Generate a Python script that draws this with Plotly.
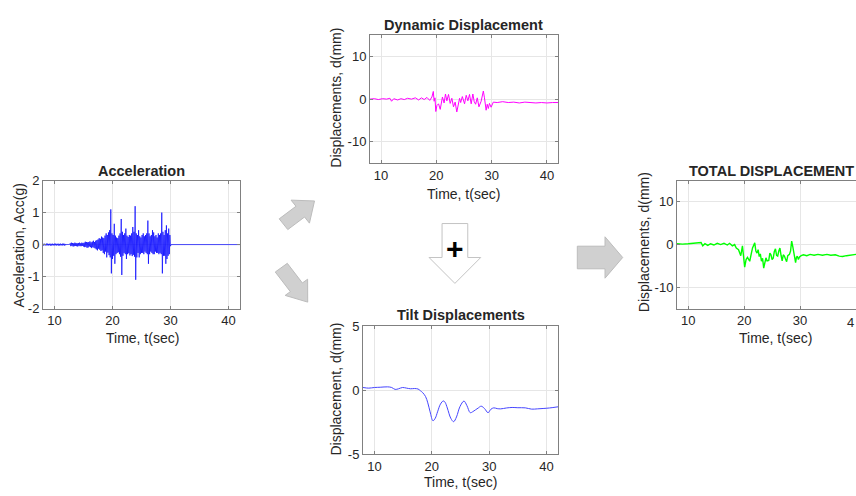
import math
import plotly.graph_objects as go

W, H = 856, 496
FONT = "Arial, Liberation Sans, Helvetica, sans-serif"
TXT = "#262626"

# ---------------- data ----------------
# Acceleration (g), sampled every 0.1 s from 8.0 s to 30.0 s, then quiet
acc_t_start, acc_dt = 8.0, 0.1
acc_v = [
    0.02, -0.03, 0.03, -0.02, 0.02, -0.03, 0.03, -0.02, 0.03, -0.03,
    0.02, -0.02, 0.03, -0.03, 0.02, -0.03, 0.03, -0.02, 0.02, -0.03,
    0.03, -0.02, 0.03, -0.03, 0.02, -0.02, 0.03, -0.03, 0.02, -0.03,
    0.03, -0.02, 0.02, -0.03, 0.03, -0.02, 0.03, -0.03, 0.02, -0.02,
    0.01, -0.01, 0.01, -0.01, 0.01, -0.01, 0.01,
    0.04, -0.05, 0.06, -0.04, 0.05, -0.06, 0.04, -0.05, 0.06, -0.04,
    0.05, -0.05, 0.04, -0.06, 0.05, -0.04, 0.06, -0.05, 0.04, -0.05,
    0.06, -0.04, 0.05, -0.06,
    0.06, -0.08, 0.09, -0.07, 0.08, -0.10, 0.07, -0.09, 0.08, -0.06,
    0.10, -0.08, 0.07, -0.11, 0.09, -0.08, 0.12, -0.10, 0.08, -0.12,
    0.12, -0.15, 0.14, -0.18, 0.16, -0.13, 0.20, -0.16, 0.18, -0.20,
    0.25, -0.18, 0.22, -0.26, 0.20,
    -0.30, 0.28, -0.22, 0.35, -0.40, 0.30, -0.25, 0.38, -0.33, 0.45,
    -0.40, 1.10, -0.90, 0.35, -0.45,
    0.30, -0.35, 0.65, -0.60, 0.28, -0.30, 0.22, -0.26, 0.20, -0.24,
    0.28, -0.30, 0.35, -0.38, 0.80, -0.95, 0.40, -0.35, 0.30, -0.26,
    0.35, -0.30, 0.50, -0.45, 0.28, -0.30, 0.24, -0.27, 0.30, -0.34,
    0.28, -0.30, 0.35, -0.36, 0.55, -0.32, 0.40, -0.38, 1.20, -1.10,
    0.35, -0.40, 0.30, -0.26, 0.45, -0.40, 0.26, -0.30, 0.22, -0.26,
    0.30, -0.26, 0.35, -0.30, 0.26, -0.22, 0.30, -0.26, 0.35, -0.30,
    0.75, -0.60, 0.35, -0.30, 0.26, -0.22, 0.30, -0.26, 0.45, -0.30,
    0.38, -0.30, 0.26, -0.22, 0.30, -0.26, 0.22, -0.26, 0.35, -0.30,
    0.30, -0.26, 0.35, -0.30, 1.00, -0.90, 0.40, -0.35, 0.30, -0.35,
    0.45, -0.60, 0.60, -0.45, 0.35, -0.35, 0.50, -0.30, 0.30, -0.05,
]
acc_tail_t = [30.1, 42.0]
acc_tail_v = [0.0, 0.0]

# Dynamic displacement (mm)
dyn_t = [8.0, 8.8, 9.5, 10.3, 11.0, 11.6, 11.9, 12.3, 13.0, 13.6,
         14.2, 14.8, 15.5, 16.2, 16.8, 17.3, 17.8, 18.3, 18.8, 19.2,
         19.45, 19.6, 19.75, 19.9, 20.1, 20.4, 20.7, 20.9, 21.1, 21.4,
         21.65, 21.9, 22.2, 22.5, 22.8, 23.1, 23.4, 23.7, 24.0, 24.2,
         24.4, 24.7, 25.1, 25.4, 25.7, 26.0, 26.3, 26.6, 26.85, 27.1,
         27.4, 27.7, 28.1, 28.3, 28.5, 28.7, 29.0, 29.2, 29.4, 29.6,
         29.9, 30.3, 31.0, 32.0, 33.0, 34.0, 35.0, 36.0, 37.0, 38.0,
         39.0, 40.0, 41.0, 42.0]
dyn_v = [0.0, 0.1, -0.1, 0.1, 0.0, 0.2, -0.5, 0.1, -0.2, 0.1,
         -0.1, 0.2, 0.0, 0.3, -0.2, 0.3, -0.1, 0.4, -0.3, 0.5,
         1.8, -0.5, 0.3, -2.9, -1.5, -1.1, -2.4, -0.6, 0.5, -0.9,
         1.2, -0.4, 1.1, -1.0, 0.2, -1.8, -0.7, -3.0, -1.2, 0.2,
         -0.8, 0.6, -1.1, 0.9, -0.4, 1.1, -1.1, 1.2, -0.6, -1.2,
         0.3, -1.8, -0.5, 0.6, 1.9, 0.3, -2.6, -1.2, -2.2, -1.0,
         -1.9, -0.7, -0.8, -0.6, -0.8, -0.7, -0.9, -0.7, -0.8, -0.9,
         -0.8, -0.9, -0.8, -0.8]

# Tilt displacement (mm)
tilt_t = [8.0, 9.0, 10.0, 11.0, 12.3, 13.0, 13.6, 14.2, 14.9, 15.6,
          16.3, 17.0, 17.6, 18.0, 18.4, 18.9, 19.3, 19.7, 20.2, 20.6,
          21.0, 21.5, 22.0, 22.3, 22.7, 23.3, 23.8, 24.3, 24.9, 25.6,
          26.1, 26.7, 27.1, 27.6, 28.1, 28.6, 29.2, 29.8, 30.3, 30.8,
          31.4, 32.0, 33.0, 34.0, 35.0, 36.3, 37.4, 38.4, 39.4, 40.5,
          42.0]
tilt_v = [0.2, 0.15, 0.2, 0.22, 0.25, 0.2, 0.05, 0.1, 0.2, 0.15,
          0.1, 0.12, 0.08, -0.05, -0.2, -0.5, -1.0, -1.7, -2.4, -2.2,
          -1.7, -1.1, -0.85, -0.95, -1.4, -2.2, -2.47, -2.1, -1.3, -0.86,
          -1.2, -1.77, -1.7, -1.55, -1.4, -1.26, -1.45, -1.77, -1.5, -1.39,
          -1.45, -1.47, -1.4, -1.36, -1.38, -1.39, -1.49, -1.47, -1.44, -1.4,
          -1.31]

# Total displacement (mm)
tot_t = [8.0, 9.0, 10.0, 11.0, 12.0, 12.3, 12.6, 13.0, 13.5, 14.0,
         14.6, 15.2, 15.8, 16.4, 17.0, 17.4, 17.9, 18.3, 18.6, 19.0,
         19.4, 19.7, 20.1, 20.35, 20.6, 21.0, 21.3, 21.5, 21.9, 22.1,
         22.3, 22.5, 22.7, 22.9, 23.1, 23.3, 23.5, 23.7, 23.9, 24.1,
         24.4, 24.6, 24.8, 25.0, 25.2, 25.4, 25.6, 25.8, 26.0, 26.2,
         26.4, 26.6, 26.8, 27.0, 27.2, 27.4, 27.6, 27.8, 28.1, 28.3,
         28.5, 28.7, 28.9, 29.05, 29.2, 29.35, 29.5, 29.7, 29.9, 30.2,
         30.6, 31.2, 31.8, 32.5, 33.2, 34.0, 34.8, 35.5, 36.3, 37.0,
         37.6, 38.3, 39.0, 39.6, 40.0, 42.0]
tot_v = [0.2, 0.1, 0.2, 0.3, 0.3, 0.5, -0.3, 0.2, -0.2, 0.2,
         -0.1, 0.3, 0.0, 0.3, -0.1, 0.3, -0.3, 0.0, -0.8, -1.2,
         -2.6, -0.3, -5.3, -3.5, -3.0, -3.9, -2.0, -0.8, 0.4, -1.5,
         -2.0, -1.2, -2.8, -2.2, -3.9, -3.2, -5.5, -4.2, -3.1, -3.8,
         -3.7, -2.0, -2.4, -3.5, -3.2, -1.6, -1.0, -2.5, -2.7, -1.5,
         -0.8, -2.5, -3.8, -2.4, -2.7, -3.4, -4.0, -2.6, -2.3, -1.5,
         0.8, -0.5, -2.3, -3.0, -4.2, -3.0, -2.7, -3.5, -2.9, -2.6,
         -2.4, -2.6, -2.3, -2.5, -2.3, -2.5, -2.3, -2.5, -2.4, -2.7,
         -2.8, -2.6, -2.5, -2.3, -2.3, -2.4]

x_ticks = [10, 20, 30, 40]
acc_yticks = [-2, -1, 0, 1, 2]
dyn_yticks = [-10, 0, 10]
tilt_yticks = [-5, 0, 5]

acc_t = [round(acc_t_start + i * acc_dt, 2) for i in range(len(acc_v))] + acc_tail_t
acc_all = acc_v + acc_tail_v


# ---------------- helpers ----------------
def px(x):
    return x / W


def py(y):
    return 1 - y / H


def lab(v):
    return str(v)


fig = go.Figure()

fig.add_trace(go.Scatter(x=acc_t, y=acc_all, mode="lines",
                         line=dict(color="#0000ff", width=0.7),
                         xaxis="x", yaxis="y"))
fig.add_trace(go.Scatter(x=dyn_t, y=dyn_v, mode="lines",
                         line=dict(color="#ff00ff", width=1),
                         xaxis="x2", yaxis="y2"))
fig.add_trace(go.Scatter(x=tilt_t, y=tilt_v, mode="lines",
                         line=dict(color="#4646ff", width=1, shape="spline"),
                         xaxis="x3", yaxis="y3"))
fig.add_trace(go.Scatter(x=tot_t, y=tot_v, mode="lines",
                         line=dict(color="#00ff00", width=1.4),
                         xaxis="x4", yaxis="y4"))


def xax(dom, rng, anchor, mirror=True):
    return dict(domain=[px(dom[0]), px(dom[1])], range=rng, anchor=anchor,
                tickvals=x_ticks, ticktext=[lab(v) for v in x_ticks],
                showgrid=True, gridcolor="#e6e6e6", gridwidth=1, zeroline=False,
                showline=True, linecolor="#808080", linewidth=1,
                mirror="ticks" if mirror else False,
                ticks="inside", ticklen=3, tickcolor="#808080",
                tickfont=dict(family=FONT, size=13, color=TXT))


def yax(dom, rng, anchor, tv, mirror=True):
    return dict(domain=[py(dom[1]), py(dom[0])], range=rng, anchor=anchor,
                tickvals=tv, ticktext=[lab(v) for v in tv],
                showgrid=True, gridcolor="#e6e6e6", gridwidth=1, zeroline=False,
                showline=True, linecolor="#808080", linewidth=1,
                mirror="ticks" if mirror else False,
                ticks="inside", ticklen=3, tickcolor="#808080",
                tickfont=dict(family=FONT, size=13, color=TXT))


annotations = []


def text(x, y, s, size=14, bold=False, angle=0, color=TXT, xanchor="center"):
    annotations.append(dict(xref="paper", yref="paper", x=px(x), y=py(y),
                            text=("<b>%s</b>" % s) if bold else s,
                            showarrow=False, textangle=angle,
                            xanchor=xanchor, yanchor="middle",
                            font=dict(family=FONT, size=size, color=color)))


# titles
text(141.5, 169, "Acceleration", 14.5, True)
text(464, 19, "Dynamic Displacement", 14.5, True)
text(460.5, 317.5, "Tilt Displacements", 14.5, True)
text(856, 169, "TOTAL DISPLACEMENT", 14.5, True, xanchor="right")
# x labels
text(142, 341.5, "Time, t(sec)")
text(464, 193, "Time, t(sec)")
text(460, 489.5, "Time, t(sec)")
text(775, 341.5, "Time, t(sec)")
# visible part of the right-edge tick label of the total-displacement axis
text(856, 325, "4", 13, xanchor="right")
# y labels
text(19, 246, "Acceleration, Acc(g)", angle=-90)
text(336.5, 94, "Displacements, d(mm)", angle=-90)
text(336.5, 394, "Displacement, d(mm)", angle=-90)
text(643.5, 243, "Displacements, d(mm)", angle=-90)
# plus sign
text(454.5, 249, "+", 30, True, color="#000000")


def arrow_path(tail, tip, shaft_w, head_w, head_len):
    dx, dy = tip[0] - tail[0], tip[1] - tail[1]
    L = math.hypot(dx, dy)
    ux, uy = dx / L, dy / L
    nx, ny = -uy, ux
    bx, by = tip[0] - ux * head_len, tip[1] - uy * head_len
    pts = [
        (tail[0] + nx * shaft_w / 2, tail[1] + ny * shaft_w / 2),
        (bx + nx * shaft_w / 2, by + ny * shaft_w / 2),
        (bx + nx * head_w / 2, by + ny * head_w / 2),
        tip,
        (bx - nx * head_w / 2, by - ny * head_w / 2),
        (bx - nx * shaft_w / 2, by - ny * shaft_w / 2),
        (tail[0] - nx * shaft_w / 2, tail[1] - ny * shaft_w / 2),
    ]
    return "M " + " L ".join("%.5f,%.5f" % (px(a), py(b)) for a, b in pts) + " Z"


shapes = []
gray_fill, gray_line = "#d0d0d0", "#bcbcbc"
shapes.append(dict(type="path", xref="paper", yref="paper",
                   path=arrow_path((283.5, 224), (314.5, 200), 14, 30, 18),
                   fillcolor=gray_fill, line=dict(color=gray_line, width=1)))
shapes.append(dict(type="path", xref="paper", yref="paper",
                   path=arrow_path((281.3, 268.8), (307.7, 304.3), 15, 28, 19),
                   fillcolor=gray_fill, line=dict(color=gray_line, width=1)))
shapes.append(dict(type="path", xref="paper", yref="paper",
                   path=arrow_path((454.9, 223.3), (454.9, 285), 25.7, 51.7, 26.7),
                   fillcolor="#ffffff", line=dict(color="#c4c4c4", width=1)))
shapes.append(dict(type="path", xref="paper", yref="paper",
                   path=arrow_path((577.3, 258.3), (622.7, 258.3), 23.3, 42.7, 17.7),
                   fillcolor=gray_fill, line=dict(color=gray_line, width=1)))

fig.update_layout(
    width=W, height=H, autosize=False,
    margin=dict(l=0, r=0, t=0, b=0),
    paper_bgcolor="#ffffff", plot_bgcolor="#ffffff",
    showlegend=False,
    xaxis=xax((43, 240), [8, 42], "y"),
    yaxis=yax((179, 311), [-2, 2], "x", acc_yticks),
    xaxis2=xax((370, 558), [8, 42], "y2"),
    yaxis2=yax((29, 161), [-15, 15], "x2", dyn_yticks),
    xaxis3=xax((363, 558), [8, 42], "y3"),
    yaxis3=yax((329, 461), [-5, 5], "x3", tilt_yticks),
    xaxis4=xax((677, 856), [8, 40], "y4"),
    yaxis4=yax((179, 311), [-15, 15], "x4", dyn_yticks, mirror=False),
    annotations=annotations,
    shapes=shapes,
)

fig.write_html(
    "out.html",
    config={"displayModeBar": False},
    post_script=(
        "document.body.style.margin='0px';document.body.style.overflow='hidden';"
    ),
)
